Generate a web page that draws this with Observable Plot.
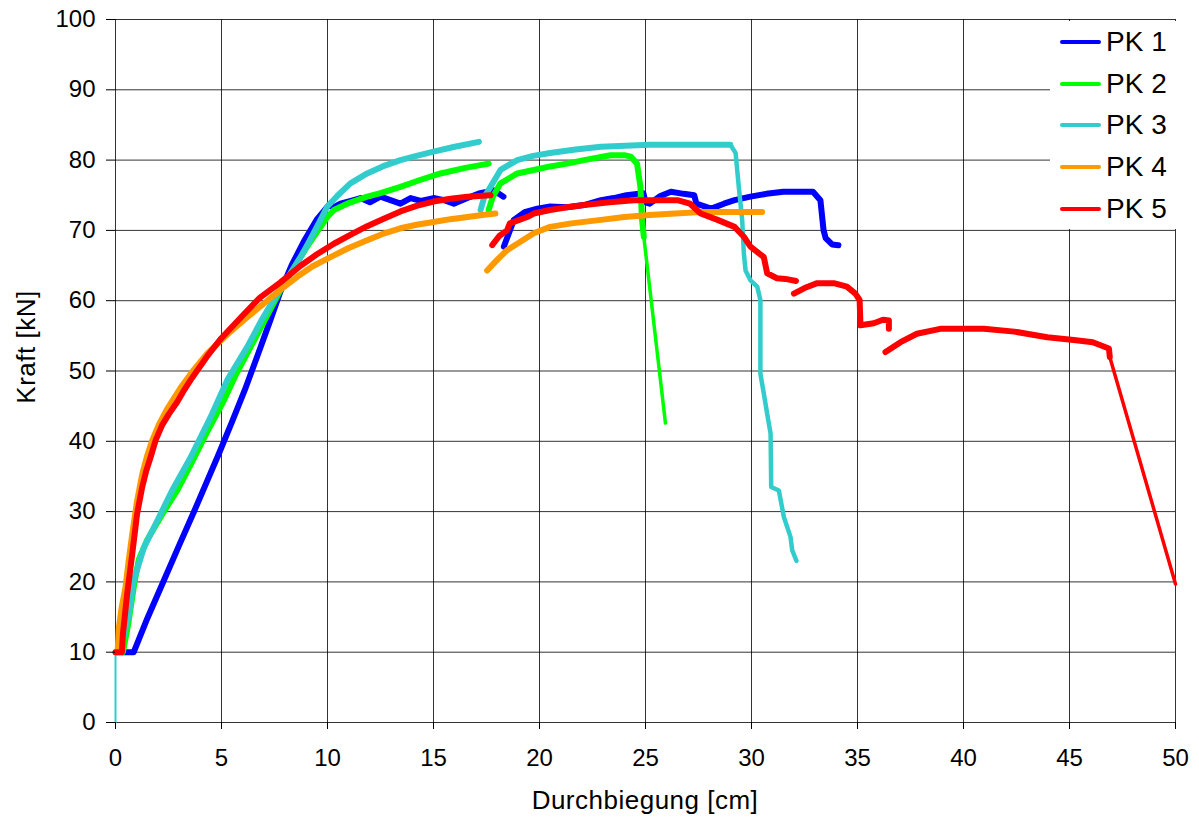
<!DOCTYPE html>
<html><head><meta charset="utf-8">
<script src="https://cdn.jsdelivr.net/npm/d3@7"></script>
<script src="https://cdn.jsdelivr.net/npm/@observablehq/plot@0.6"></script>
<style>
body{margin:0;background:#fff;font-family:"Liberation Sans",Arial,sans-serif;}
#wrap{position:relative;width:1199px;height:818px;}
#legend{position:absolute;left:1050px;top:21px;width:149px;height:208px;background:#fff;}
.item{position:absolute;left:0;height:30px;display:flex;align-items:center;}
.sw{width:41px;height:4px;border-radius:2px;margin-left:10px;margin-right:5px;}
.lab{font-size:28px;color:#000;white-space:nowrap;}
</style></head><body><div id="wrap"></div>
<script>
// ---- series / categories ----
const series = ["PK 1", "PK 2", "PK 3", "PK 4", "PK 5"];
const colors = ["#0000ff", "#00ff00", "#33cccc", "#ff9900", "#ff0000"];
const xTicks = [0,5,10,15,20,25,30,35,40,45,50];
const yTicks = [0,10,20,30,40,50,60,70,80,90,100];

// ---- PK 1 (Durchbiegung cm, Kraft kN) ----
const pk1_a = [[0.32,10],[0.86,10],[1.5,14.8],[2.28,20.2],[3.0,25.2],[3.69,29.9],[4.3,34.2],[4.87,38.2],[5.5,42.8],[6.1,47.3],[6.7,52.2],[7.3,57.2],[7.78,61.3],[8.3,65.0],[8.88,68.4],[9.51,71.6],[10.06,73.6],[10.3,73.3],[10.61,73.8],[11.1,74.2],[11.56,74.6],[12.0,74.0],[12.5,74.8],[12.97,74.3],[13.44,73.8],[13.92,74.6],[14.4,74.2],[15.0,74.6],[15.5,74.3],[15.96,73.8],[16.6,74.6],[17.2,75.3],[17.84,75.7],[18.3,74.8]];
const pk1_b = [[18.32,67.7],[18.79,71.5],[19.3,72.6],[19.9,73.1],[20.5,73.4],[21.3,73.3],[22.1,73.6],[22.9,74.3],[23.5,74.6],[24.1,75.0],[24.9,75.3],[25.0,74.0],[25.2,73.8],[25.7,74.9],[26.2,75.5],[26.8,75.2],[27.3,75.0],[27.4,73.8],[28.1,73.1],[28.7,73.8],[29.2,74.3],[29.95,74.8],[30.7,75.2],[31.5,75.5],[32.2,75.5],[32.9,75.5],[33.25,74.3],[33.4,70.0],[33.5,68.9],[33.8,68.0],[34.1,67.9]];

// ---- PK 2 ----
const pk2_a = [[0.35,10],[0.6,14],[0.9,20],[1.1,23.2],[1.5,26.0],[2.2,29.6],[2.91,33.0],[3.6,37.0],[4.3,41.2],[5.11,45.8],[5.7,49.6],[6.21,52.5],[7.0,57.0],[7.78,61.5],[8.4,64.6],[9.04,67.7],[9.35,69.1],[9.99,71.9],[10.3,72.9],[10.93,73.8],[11.87,74.8],[12.5,75.3],[13.44,76.2],[14.4,77.2],[15.33,78.1],[16.5,78.9],[17.6,79.5]];
const pk2_b = [[17.6,72.9],[17.8,74.8],[18.16,76.7],[18.95,78.1],[19.73,78.6],[20.5,79.1],[21.3,79.5],[22.1,80.0],[23.35,80.7],[24.0,80.7],[24.3,80.5],[24.6,79.5],[24.76,76.2],[24.84,71.5],[24.92,69.1]];
const pk2_drop = [[24.92,69.1],[25.94,42.6]];

// ---- PK 3 ----
const pk3_start = [[0,0],[0,10]];
const pk3_a = [[0,10],[0.24,10],[0.4,12.5],[0.63,15.4],[0.86,20.2],[1.34,24.9],[1.97,28.7],[2.67,33.0],[3.54,37.7],[4.48,43.4],[5.27,48.7],[6.21,53.4],[6.9,57.3],[7.63,61.0],[8.2,63.6],[8.73,66.2],[9.2,68.8],[9.67,71.5],[9.99,73.4],[10.46,74.9],[11.08,76.7],[11.87,78.1],[12.6,79.1],[13.44,80.0],[14.2,80.6],[15.0,81.2],[16.0,81.9],[17.14,82.6]];
const pk3_b = [[17.22,72.9],[17.4,74.8],[17.69,76.2],[18.16,78.6],[18.95,80.0],[19.7,80.6],[20.5,81.0],[21.7,81.5],[22.9,81.9],[25.2,82.2],[27.0,82.2],[29.0,82.2]];
const pk3_drop = [[29.0,82.2],[29.25,81.0],[29.4,76.2],[29.56,71.5],[29.64,66.7],[29.72,64.3],[29.95,62.9],[30.27,62.0],[30.42,60.1],[30.42,49.6],[30.58,46.8],[30.74,43.9],[30.9,41.1],[30.93,33.5],[31.29,33.0],[31.53,29.2],[31.84,26.4],[31.92,24.5],[32.12,23.0]];

// ---- PK 4 ----
const pk4_a = [[0.1,10],[0.16,13.5],[0.3,16.5],[0.47,19.2],[0.62,23],[0.79,26.8],[1.0,31.2],[1.26,35.3],[1.5,38.0],[1.73,40.1],[2.05,42.4],[2.44,44.6],[3.07,47.6],[3.7,50.2],[4.33,52.5],[5.42,55.6],[6.2,57.6],[7.0,59.6],[7.8,61.6],[8.57,63.4],[9.3,64.9],[10.14,66.2],[11.0,67.5],[11.87,68.6],[12.6,69.5],[13.44,70.3],[14.2,70.8],[15.0,71.2],[15.8,71.6],[16.6,71.9],[17.3,72.2],[17.92,72.4]];
const pk4_b = [[17.53,64.3],[18.0,65.8],[18.47,67.2],[18.95,68.1],[19.73,69.6],[20.5,70.5],[21.5,71.0],[22.9,71.5],[24.0,71.9],[25.2,72.2],[26.4,72.4],[27.6,72.6],[29.0,72.6],[30.5,72.6]];

// ---- PK 5 ----
const pk5_a = [[0,10],[0.3,10],[0.35,12.6],[0.55,18.3],[0.79,24.0],[1.02,29.7],[1.26,33.5],[1.45,35.8],[1.65,37.7],[1.9,40.2],[2.2,42.3],[2.5,43.8],[2.91,45.6],[3.2,47.1],[3.54,48.7],[4.3,52.0],[5.0,54.7],[6.0,57.9],[6.8,60.4],[7.78,62.6],[8.7,64.9],[9.5,66.6],[10.3,68.1],[11.1,69.4],[11.87,70.6],[12.6,71.6],[13.44,72.7],[14.2,73.5],[15.0,74.1],[15.8,74.5],[16.6,74.8],[17.69,75.0]];
const pk5_b = [[17.77,67.9],[18.1,69.2],[18.47,70.0],[18.6,71.0],[19.42,71.9],[19.73,72.4],[20.5,72.9],[21.3,73.3],[22.1,73.6],[23.3,74.0],[24.45,74.3],[25.5,74.3],[26.5,74.3],[27.1,73.8],[27.6,72.4],[28.4,71.5],[29.2,70.5],[29.64,69.1],[29.95,67.7],[30.58,66.2],[30.74,63.9],[31.2,63.2],[31.6,63.1],[32.1,62.8]];
const pk5_c = [[32.0,61.0],[32.5,61.8],[33.1,62.5],[33.88,62.5],[34.5,62.0],[34.9,61.0],[35.1,60.1],[35.14,56.5],[35.77,56.8],[36.2,57.3],[36.48,57.2],[36.48,56.0]];
const pk5_d = [[36.32,52.7],[37.03,54.1],[37.8,55.3],[38.9,56.0],[40.0,56.0],[40.96,56.0],[42.4,55.6],[43.95,54.8],[45.2,54.4],[46.1,54.1],[46.86,53.2],[46.9,52.0]];
const pk5_drop = [[46.9,52.0],[50,19.7]];

// ---- build table ----
const segments = [
  {s:"PK 1", pts:pk1_a, w:"thick"},
  {s:"PK 1", pts:pk1_b, w:"thick"},
  {s:"PK 2", pts:pk2_a, w:"thick"},
  {s:"PK 2", pts:pk2_b, w:"thick"},
  {s:"PK 2", pts:pk2_drop, w:"thin"},
  {s:"PK 3", pts:pk3_start, w:"hair"},
  {s:"PK 3", pts:pk3_a, w:"thick"},
  {s:"PK 3", pts:pk3_b, w:"thick"},
  {s:"PK 3", pts:pk3_drop, w:"mid"},
  {s:"PK 4", pts:pk4_a, w:"thick"},
  {s:"PK 4", pts:pk4_b, w:"thick"},
  {s:"PK 5", pts:pk5_a, w:"thick"},
  {s:"PK 5", pts:pk5_b, w:"thick"},
  {s:"PK 5", pts:pk5_c, w:"thick"},
  {s:"PK 5", pts:pk5_d, w:"thick"},
  {s:"PK 5", pts:pk5_drop, w:"thin"}
];
const widths = {thick:6, mid:4.5, thin:3.5, hair:2};

const lineMarks = segments.map(seg =>
  Plot.line(seg.pts.map(([x,y]) => ({series:seg.s, x, y})), {
    x:"x", y:"y", stroke:"series", strokeWidth: widths[seg.w],
    strokeLinejoin:"round", strokeLinecap:"round"
  })
);

const chart = Plot.plot({
  width:1199, height:818,
  marginLeft:115, marginRight:24, marginTop:19, marginBottom:96,
  style:{fontFamily:"'Liberation Sans', Arial, sans-serif", background:"#fff", color:"#000"},
  x:{domain:[0,50]},
  y:{domain:[0,100]},
  color:{type:"ordinal", domain:series, range:colors},
  marks:[
    Plot.gridX(xTicks, {stroke:"#000", strokeOpacity:0.8, strokeWidth:1}),
    Plot.gridY(yTicks, {stroke:"#000", strokeOpacity:0.8, strokeWidth:1}),
    ...lineMarks,
    Plot.axisX(xTicks, {tickSize:7, tickPadding:19, fontSize:24, label:null, tickFormat:d=>String(d)}),
    Plot.axisY(yTicks, {tickSize:9, tickPadding:11, fontSize:24, label:null, tickFormat:d=>String(d)})
  ]
});

const svg = d3.select(chart);
svg.append("text").attr("x",645).attr("y",809).attr("text-anchor","middle")
  .attr("font-size",26).attr("letter-spacing","0.5px").attr("fill","#000").text("Durchbiegung [cm]");
svg.append("text").attr("transform","translate(35,347) rotate(-90)").attr("text-anchor","middle")
  .attr("font-size",26).attr("letter-spacing","0.5px").attr("fill","#000").text("Kraft [kN]");

const wrap = document.getElementById("wrap");
wrap.appendChild(chart);

const legend = document.createElement("div");
legend.id = "legend";
series.forEach((name, i) => {
  const item = document.createElement("div");
  item.className = "item";
  item.style.top = (20.7 + i*41.8 - 15) + "px";
  const sw = document.createElement("div");
  sw.className = "sw";
  sw.style.background = colors[i];
  const lab = document.createElement("span");
  lab.className = "lab";
  lab.textContent = name;
  item.appendChild(sw); item.appendChild(lab);
  legend.appendChild(item);
});
wrap.appendChild(legend);
</script>
</body></html>
